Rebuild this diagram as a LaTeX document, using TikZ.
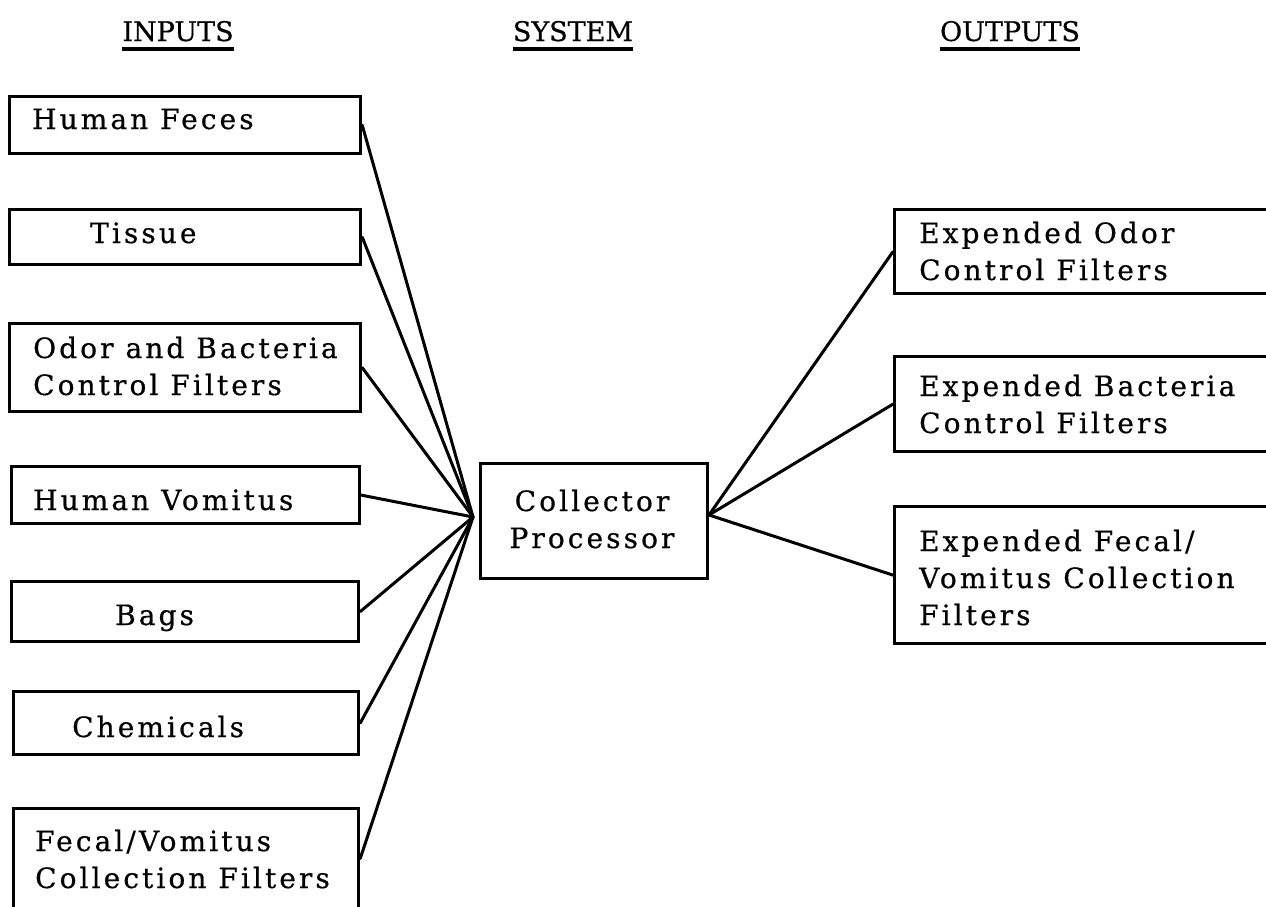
\documentclass[tikz,border=0pt]{standalone}
\usepackage{fontspec}
\setmainfont{DejaVu Serif}[FakeBold=0.6]
\newfontfamily\spacedserif{DejaVu Serif}[LetterSpace=11,FakeBold=0.6]
\begin{document}
\begin{tikzpicture}[x=1pt,y=-1pt,
  box/.style={draw, line width=3.2pt, inner sep=0pt, anchor=north west},
  lbl/.style={anchor=base west, inner sep=0pt, align=left,
    font=\spacedserif\fontsize{28}{37}\selectfont},
  hdr/.style={anchor=base, inner sep=0pt, font=\fontsize{27}{37}\selectfont},
  uline/.style={line width=3.5pt},
  wire/.style={line width=3pt, line cap=round}]
\clip (0,0) rectangle (1266,906);
\fill[white] (0,0) rectangle (1266,906);

% column headings
\node[hdr] (hin)  at (178,41) {INPUTS};
\node[hdr] (hsys) at (573,41) {SYSTEM};
\node[hdr] (hout) at (1010,41) {OUTPUTS};
\foreach \h in {hin,hsys,hout}
  \draw[uline] ([yshift=-8pt]\h.base west) -- ([yshift=-8pt]\h.base east);

% inputs (multi-line labels are placed by their last baseline)
\node[box, minimum width=351pt, minimum height=57pt] (feces) at (8,95) {};
\node[lbl] (feces-t) at (32,129) {Human Feces};
\node[box, minimum width=351pt, minimum height=55pt] (tissue) at (8,208) {};
\node[lbl] (tissue-t) at (90,243) {Tissue};
\node[box, minimum width=351pt, minimum height=88pt] (odor) at (8,322) {};
\node[lbl] (odor-t) at (33,395) {Odor and Bacteria\\Control Filters};
\node[box, minimum width=348pt, minimum height=57pt] (vomit) at (10,465) {};
\node[lbl] (vomit-t) at (33,510) {Human Vomitus};
\node[box, minimum width=347pt, minimum height=60pt] (bags) at (10,580) {};
\node[lbl] (bags-t) at (115,625) {Bags};
\node[box, minimum width=345pt, minimum height=63pt] (chem) at (12,690) {};
\node[lbl] (chem-t) at (72,737) {Chemicals};
\node[box, minimum width=345pt, minimum height=100pt] (fvcf) at (12,807) {};
\node[lbl] (fvcf-t) at (35,888) {Fecal/Vomitus\\Collection Filters};

% system
\node[box, minimum width=227pt, minimum height=115pt] (cp) at (479,462) {};
\node[lbl, anchor=base, align=center] (cp-t) at (592,548) {Collector\\Processor};
\coordinate (hubL) at (473,517);
\coordinate (hubR) at (709,515);

% outputs
\node[box, minimum width=400pt, minimum height=84pt] (eodor) at (893,208) {};
\node[lbl] (eodor-t) at (919,280) {Expended Odor\\Control Filters};
\node[box, minimum width=400pt, minimum height=95pt] (ebact) at (893,355) {};
\node[lbl] (ebact-t) at (919,433) {Expended Bacteria\\Control Filters};
\node[box, minimum width=400pt, minimum height=137pt] (efvcf) at (893,505) {};
\node[lbl] (efvcf-t) at (919,625) {Expended Fecal/\\Vomitus Collection\\Filters};

% connectors
\foreach \n in {feces,tissue,odor,vomit,bags,chem,fvcf}
  \draw[wire] (\n.east) -- (hubL);
\foreach \n in {eodor,ebact,efvcf}
  \draw[wire] (hubR) -- (\n.west);
\end{tikzpicture}
\end{document}
